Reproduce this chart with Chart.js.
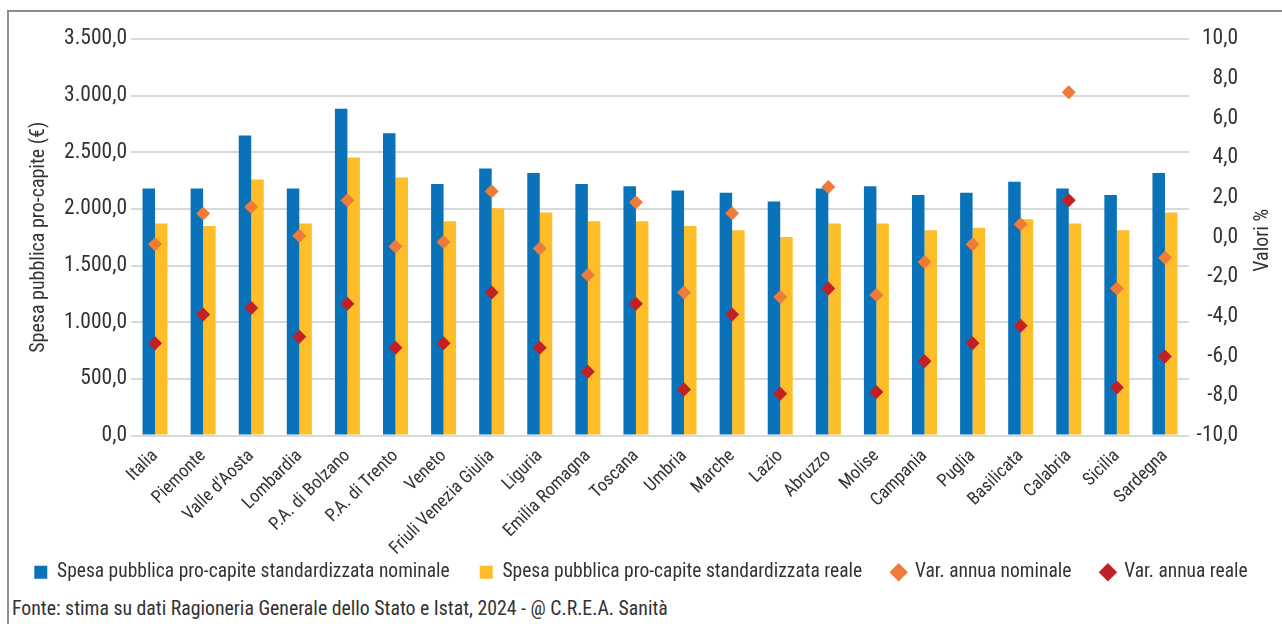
<!DOCTYPE html>
<html>
<head>
<meta charset="utf-8">
<script src="https://cdn.jsdelivr.net/npm/chart.js@4.4.1/dist/chart.umd.min.js"></script>
<style>
  body { margin: 0; background: #fff; width: 1282px; height: 624px; overflow: hidden; position: relative;
         font-family: 'Roboto Condensed', Roboto, sans-serif; }
  #cornice { position: absolute; left: 7px; top: 10px; right: 0; bottom: 0;
             border-top: 2px solid #8c8c8c; border-left: 2px solid #8c8c8c; }
  #grafico { position: absolute; left: 0; top: 11px; }
  #fonte { position: absolute; left: 12px; top: 597px; font-size: 19.8px; line-height: 23px; color: #333; white-space: nowrap; }
</style>
</head>
<body>
<div id="cornice"></div>
<canvas id="grafico" width="1282" height="581"></canvas>
<div id="fonte">Fonte: stima su dati Ragioneria Generale dello Stato e Istat, 2024 - @ C.R.E.A. Sanità</div>
<script>
// Dati
const regioni = ['Italia', 'Piemonte', "Valle d'Aosta", 'Lombardia', 'P.A. di Bolzano', 'P.A. di Trento',
  'Veneto', 'Friuli Venezia Giulia', 'Liguria', 'Emilia Romagna', 'Toscana', 'Umbria', 'Marche', 'Lazio',
  'Abruzzo', 'Molise', 'Campania', 'Puglia', 'Basilicata', 'Calabria', 'Sicilia', 'Sardegna'];

const spesaNominale = [2180, 2180, 2649, 2180, 2884, 2669, 2221, 2357, 2318, 2221, 2201,
  2162, 2142, 2065, 2180, 2201, 2124, 2142, 2239, 2180, 2124, 2318];
const spesaReale = [1871, 1850, 2260, 1871, 2454, 2277, 1891, 2006, 1968, 1891, 1891,
  1850, 1812, 1753, 1871, 1871, 1812, 1833, 1909, 1871, 1812, 1968];
const varNominale = [-0.35, 1.2, 1.53, 0.08, 1.87, -0.47, -0.24, 2.32, -0.57, -1.9, 1.77,
  -2.79, 1.21, -3.01, 2.54, -2.91, -1.25, -0.35, 0.66, 7.31, -2.58, -1.03];
const varReale = [-5.35, -3.9, -3.57, -5.02, -3.35, -5.57, -5.35, -2.79, -5.57, -6.78, -3.35,
  -7.68, -3.9, -7.9, -2.58, -7.8, -6.25, -5.35, -4.46, 1.87, -7.58, -6.01];

const FONT = "'Roboto Condensed', Roboto, sans-serif";
const TESTO = '#333333';

// 3.500,0
function formatoEuro(v) {
  const parti = Number(v).toFixed(1).split('.');
  return parti[0].replace(/\B(?=(\d{3})+(?!\d))/g, '.') + ',' + parti[1];
}
function formatoPerc(v) {
  return Number(v).toFixed(1).replace('.', ',');
}

// asse destro: etichette allineate a destra e titolo scritto dal basso verso l'alto
const asseDestro = {
  id: 'asseDestro',
  afterLayout(chart) {
    chart.scales.y1.right = 1238;
  },
  afterDraw(chart) {
    const { ctx, chartArea } = chart;
    ctx.save();
    ctx.translate(1263, (chartArea.top + chartArea.bottom) / 2 + 3);
    ctx.rotate(-Math.PI / 2);
    ctx.font = '20px ' + FONT;
    ctx.fillStyle = TESTO;
    ctx.textAlign = 'center';
    ctx.textBaseline = 'middle';
    ctx.fillText('Valori %', 0, 0);
    ctx.restore();
  }
};

Chart.defaults.font.family = FONT;
Chart.defaults.color = TESTO;

new Chart(document.getElementById('grafico'), {
  type: 'bar',
  data: {
    labels: regioni,
    datasets: [
      {
        label: 'Spesa pubblica pro-capite standardizzata nominale',
        data: spesaNominale,
        backgroundColor: '#0a72b9',
        yAxisID: 'y',
        pointStyle: 'rect',
        categoryPercentage: 0.52,
        barPercentage: 1,
        order: 1
      },
      {
        label: 'Spesa pubblica pro-capite standardizzata reale',
        data: spesaReale,
        backgroundColor: '#fdbe2a',
        yAxisID: 'y',
        pointStyle: 'rect',
        categoryPercentage: 0.52,
        barPercentage: 1,
        order: 1
      },
      {
        type: 'line',
        label: 'Var. annua nominale',
        data: varNominale,
        yAxisID: 'y1',
        showLine: false,
        pointStyle: 'rectRot',
        pointRadius: 7,
        pointBorderWidth: 0,
        backgroundColor: '#ee7b3a',
        borderColor: '#ee7b3a',
        order: 0
      },
      {
        type: 'line',
        label: 'Var. annua reale',
        data: varReale,
        yAxisID: 'y1',
        showLine: false,
        pointStyle: 'rectRot',
        pointRadius: 7,
        pointBorderWidth: 0,
        backgroundColor: '#c21f26',
        borderColor: '#c21f26',
        order: 0
      }
    ]
  },
  options: {
    responsive: false,
    animation: false,
    devicePixelRatio: 1,
    layout: { padding: { top: 28, left: 0, right: 0, bottom: 0 } },
    scales: {
      x: {
        grid: { display: false },
        border: { display: false },
        ticks: { font: { size: 18 }, color: TESTO, maxRotation: 45, minRotation: 45, padding: 2, autoSkip: false },
        afterFit: s => {
          s.height = 97;
          s._computeLabelArea = () => null; // le etichette lunghe scendono sotto l'asse
        }
      },
      y: {
        position: 'left',
        min: 0,
        max: 3500,
        grid: { color: '#d9d9d9', lineWidth: 2, drawTicks: false },
        border: { display: false },
        ticks: { stepSize: 500, font: { size: 21.5 }, color: TESTO, padding: 4, callback: v => formatoEuro(v) },
        title: { display: true, text: 'Spesa pubblica pro-capite (€)', font: { size: 20 }, color: TESTO, padding: { top: 27, bottom: 0 } },
        afterFit: s => { s.width = 131; }
      },
      y1: {
        position: 'right',
        min: -10,
        max: 10,
        grid: { display: false, drawTicks: false },
        border: { display: false },
        ticks: { stepSize: 2, font: { size: 21.5 }, color: TESTO, padding: 7, crossAlign: 'far', callback: v => formatoPerc(v) },
        afterFit: s => { s.width = 93; }
      }
    },
    plugins: {
      legend: {
        position: 'bottom',
        labels: {
          usePointStyle: true,
          boxWidth: 13,
          boxHeight: 13,
          padding: 30,
          font: { size: 19.5 },
          color: TESTO,
          sort: (a, b) => a.datasetIndex - b.datasetIndex
        }
      },
      tooltip: { enabled: false }
    }
  },
  plugins: [asseDestro]
});
</script>
</body>
</html>
